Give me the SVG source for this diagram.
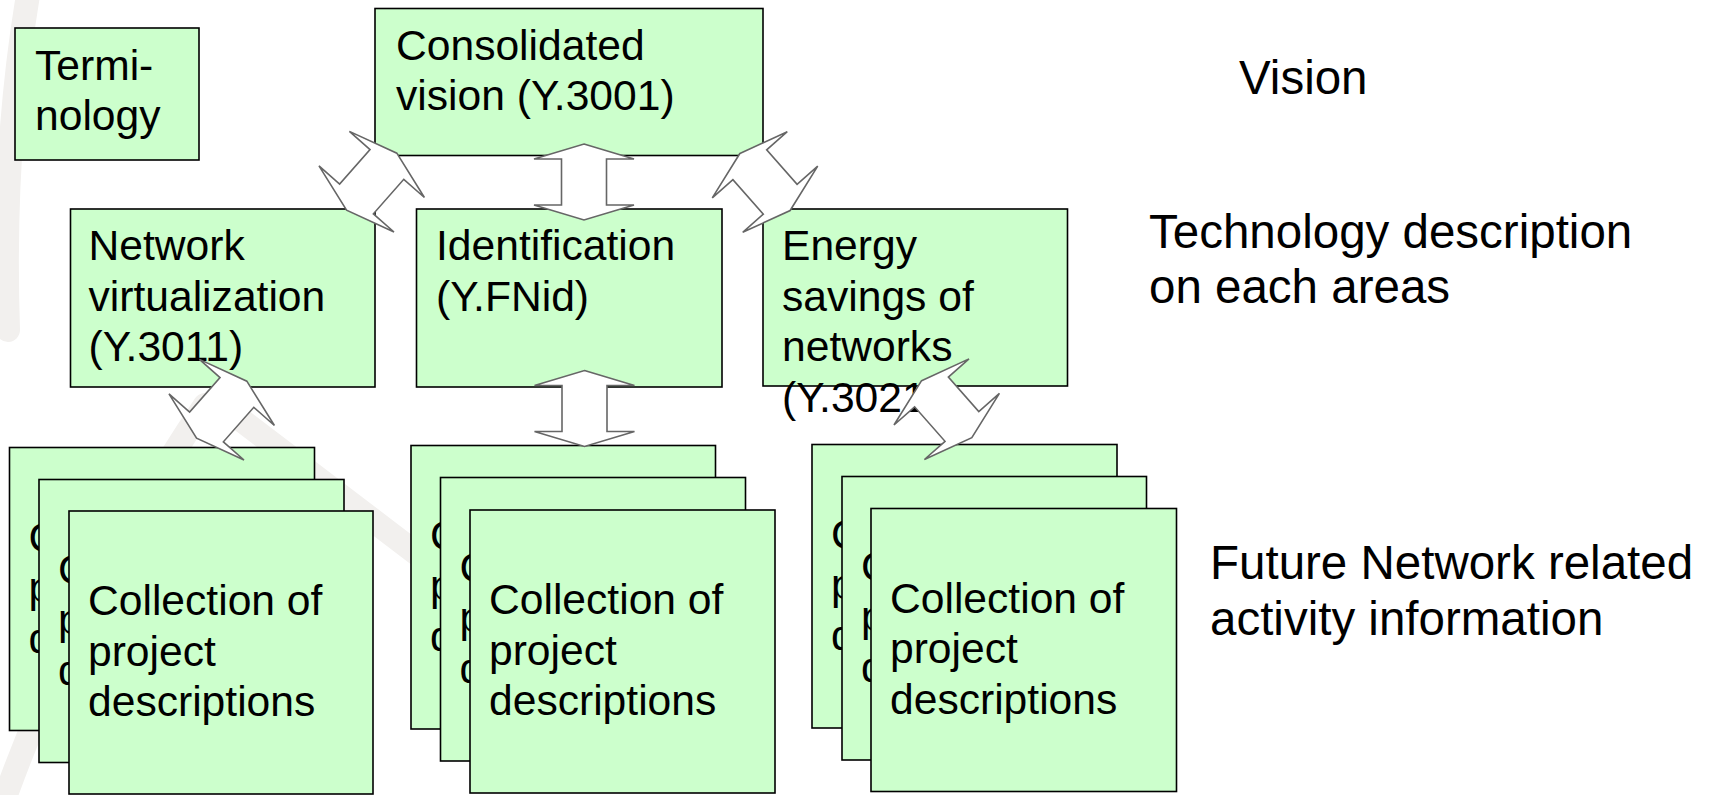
<svg xmlns="http://www.w3.org/2000/svg" xmlns:xlink="http://www.w3.org/1999/xlink" width="1709" height="795" viewBox="0 0 1709 795">
<style>
.box{fill:#CCFFCC;stroke:#000;stroke-width:1.6}
.t{font-family:"Liberation Sans",Arial,sans-serif;font-size:42.6px;fill:#000}
.lbl{font-family:"Liberation Sans",Arial,sans-serif;font-size:47.5px;fill:#000}
.arr{fill:#fff;stroke:#666;stroke-width:1.6;stroke-linejoin:miter}
.wm{fill:none;stroke:#f2f0ee;stroke-width:24;stroke-linecap:round}
</style>
<defs>
<path id="dbl" d="M 0 -38 L 50 -23 L 22.5 -23 L 22.5 23 L 50 23 L 0 38 L -50 23 L -22.5 23 L -22.5 -23 L -50 -23 Z"/>
</defs>
<rect width="1709" height="795" fill="#fff"/>

<g id="watermark">
<path class="wm" d="M 4 800 Q 80 590 205 405"/>
<path class="wm" d="M 215 400 L 425 560"/>
<path class="wm" d="M 28 -5 Q 2 150 8 330"/>
</g>

<g id="terminology">
<rect class="box" x="15" y="28" width="184" height="132"/>
<text class="t" x="35" y="80">Termi-</text>
<text class="t" x="35" y="130">nology</text>
</g>

<g id="consolidated">
<rect class="box" x="375" y="8.5" width="388" height="147"/>
<text class="t" x="396" y="59.5">Consolidated</text>
<text class="t" x="396" y="110">vision (Y.3001)</text>
</g>

<g id="netvirt">
<rect class="box" x="70.5" y="209" width="304.5" height="178"/>
<text class="t" x="88.5" y="260">Network</text>
<text class="t" x="88.5" y="310.5">virtualization</text>
<text class="t" x="88.5" y="361">(Y.3011)</text>
</g>

<g id="identification">
<rect class="box" x="416.5" y="209" width="305.5" height="178"/>
<text class="t" x="436" y="260">Identification</text>
<text class="t" x="436" y="310.5">(Y.FNid)</text>
</g>

<g id="energy">
<rect class="box" x="763" y="209" width="304.5" height="177"/>
<text class="t" x="782" y="260">Energy</text>
<text class="t" x="782" y="310.5">savings of</text>
<text class="t" x="782" y="361">networks</text>
<text class="t" x="782" y="411.5">(Y.3021)</text>
</g>

<g id="stack1">
<g id="stack1-card1"><rect class="box" x="9.5" y="447.5" width="305" height="283"/>
<text class="t" x="28.5" y="551.5">Collection of</text><text class="t" x="28.5" y="602">project</text><text class="t" x="28.5" y="652.5">descriptions</text></g>
<g id="stack1-card2"><rect class="box" x="39" y="479.5" width="305" height="283"/>
<text class="t" x="58" y="583.5">Collection of</text><text class="t" x="58" y="634">project</text><text class="t" x="58" y="684.5">descriptions</text></g>
<g id="stack1-card3"><rect class="box" x="69" y="511" width="304" height="283"/>
<text class="t" x="88" y="615">Collection of</text><text class="t" x="88" y="665.5">project</text><text class="t" x="88" y="716">descriptions</text></g>
</g>

<g id="stack2">
<g id="stack2-card1"><rect class="box" x="411" y="445.5" width="304.5" height="283.5"/>
<text class="t" x="430" y="549.5">Collection of</text><text class="t" x="430" y="600">project</text><text class="t" x="430" y="650.5">descriptions</text></g>
<g id="stack2-card2"><rect class="box" x="440.5" y="477.5" width="305" height="283.5"/>
<text class="t" x="459.5" y="581.5">Collection of</text><text class="t" x="459.5" y="632">project</text><text class="t" x="459.5" y="682.5">descriptions</text></g>
<g id="stack2-card3"><rect class="box" x="470" y="510" width="305" height="283"/>
<text class="t" x="489" y="614">Collection of</text><text class="t" x="489" y="664.5">project</text><text class="t" x="489" y="715">descriptions</text></g>
</g>

<g id="stack3">
<g id="stack3-card1"><rect class="box" x="812" y="444.5" width="305" height="283.5"/>
<text class="t" x="831" y="548.5">Collection of</text><text class="t" x="831" y="599">project</text><text class="t" x="831" y="649.5">descriptions</text></g>
<g id="stack3-card2"><rect class="box" x="842" y="476.5" width="304.5" height="283.5"/>
<text class="t" x="861" y="580.5">Collection of</text><text class="t" x="861" y="631">project</text><text class="t" x="861" y="681.5">descriptions</text></g>
<g id="stack3-card3"><rect class="box" x="871" y="508.5" width="305.5" height="283"/>
<text class="t" x="890" y="612.5">Collection of</text><text class="t" x="890" y="663">project</text><text class="t" x="890" y="713.5">descriptions</text></g>
</g>

<g id="labels">
<text class="lbl" x="1239" y="94">Vision</text>
<text class="lbl" x="1149" y="248">Technology description</text>
<text class="lbl" x="1149" y="303">on each areas</text>
<text class="lbl" x="1210" y="579">Future Network related</text>
<text class="lbl" x="1210" y="635">activity information</text>
</g>

<g id="connectors">
<use xlink:href="#dbl" class="arr" transform="translate(584,182)"/>
<use xlink:href="#dbl" class="arr" transform="translate(584.5,408.5)"/>
<use xlink:href="#dbl" class="arr" transform="translate(371.7,181.7) rotate(41.4)"/>
<use xlink:href="#dbl" class="arr" transform="translate(765,182) rotate(-41.4)"/>
<use xlink:href="#dbl" class="arr" transform="translate(221.7,409.7) rotate(41.4)"/>
<use xlink:href="#dbl" class="arr" transform="translate(946.7,409.2) rotate(-41.4)"/>
</g>
</svg>
